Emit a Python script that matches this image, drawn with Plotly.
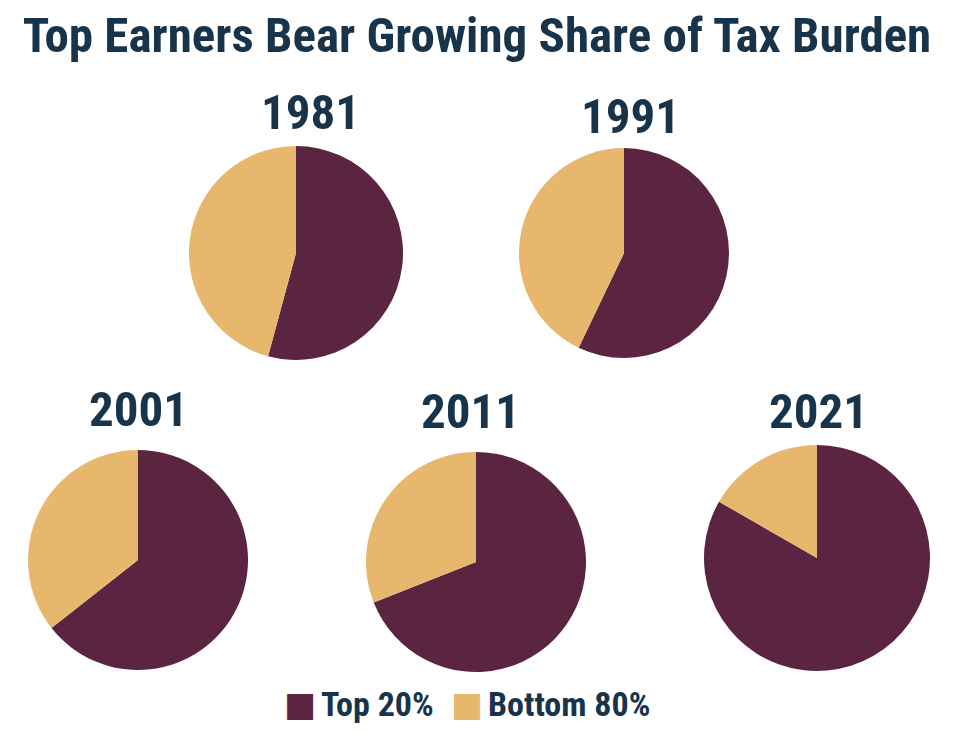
import plotly.graph_objects as go

# Shares of tax burden (percent)
years = ['1981', '1991', '2001', '2011', '2021']
top20 = [54.2, 57.1, 64.4, 69.0, 83.3]
bottom80 = [100 - v for v in top20]
groups = ['Top 20%', 'Bottom 80%']
colors = ['#5B2440', '#E6B76C']

FONT = 'Roboto Condensed, Liberation Sans Narrow, DejaVu Sans Condensed, Roboto, sans-serif'
NAVY = '#17344A'

# page has an 8px body margin, so the figure is a little smaller than the window
OFF = 8
W, H = 954 - 2 * OFF, 732 - 2 * OFF

def px(x, y):
    return (x - OFF) / W, 1 - (y - OFF) / H

# centre and radius (window px) for each pie
centres = [(296, 253, 107), (624, 253, 105), (138, 560, 110), (476, 562, 110), (817, 558, 113)]
label_pos = [(310, 113), (630, 116), (138, 409), (470, 411), (818, 411)]

fig = go.Figure()

for i, year in enumerate(years):
    cx, cy, r = centres[i]
    x0, y0 = px(cx - r, cy + r)
    x1, y1 = px(cx + r, cy - r)
    fig.add_trace(go.Pie(
        labels=groups,
        values=[top20[i], bottom80[i]],
        marker=dict(colors=colors, line=dict(width=0)),
        sort=False,
        direction='clockwise',
        rotation=0,
        textinfo='none',
        hoverinfo='label+percent',
        showlegend=False,
        domain=dict(x=[x0, x1], y=[y0, y1]),
        name=year,
    ))
    lx, ly = px(*label_pos[i])
    fig.add_annotation(
        x=lx, y=ly, xref='paper', yref='paper', xanchor='center', yanchor='middle',
        text='<b>%s</b>' % year, showarrow=False,
        font=dict(size=49, color=NAVY, family=FONT),
    )

# legend drawn as squares + labels
legend_sq = [300, 467]
legend_txt = [319, 486]
for i, g in enumerate(groups):
    sx, sy = px(legend_sq[i], 704)
    fig.add_annotation(x=sx, y=sy, xref='paper', yref='paper', xanchor='center', yanchor='middle',
                       text='■', showarrow=False, font=dict(size=34, color=colors[i], family='DejaVu Sans'))
    tx, ty = px(legend_txt[i], 704)
    fig.add_annotation(x=tx, y=ty, xref='paper', yref='paper', xanchor='left', yanchor='middle',
                       text='<b>%s</b>' % g, showarrow=False, font=dict(size=34, color=NAVY, family=FONT))

tx, ty = px(477, 35)
fig.update_layout(
    width=W, height=H,
    margin=dict(l=0, r=0, t=0, b=0),
    paper_bgcolor='white',
    showlegend=False,
    title=dict(
        text='<b>Top Earners Bear Growing Share of Tax Burden</b>',
        x=tx, xanchor='center', y=ty, yanchor='middle',
        font=dict(size=49, color=NAVY, family=FONT),
    ),
)

fig.write_html("out.html")
